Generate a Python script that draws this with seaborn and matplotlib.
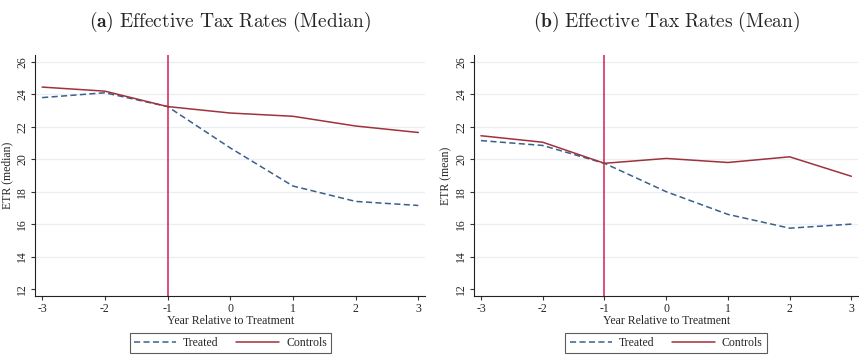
import numpy as np
import pandas as pd
import matplotlib
matplotlib.use("Agg")
import matplotlib.pyplot as plt
from matplotlib.lines import Line2D
import seaborn as sns

# event time
years = [-3, -2, -1, 0, 1, 2, 3]

# panel (a) median ETR
median_treated = [23.8, 24.1, 23.25, 20.7, 18.35, 17.4, 17.15]
median_controls = [24.45, 24.2, 23.25, 22.85, 22.65, 22.05, 21.65]

# panel (b) mean ETR
mean_treated = [21.15, 20.85, 19.75, 18.0, 16.6, 15.75, 16.0]
mean_controls = [21.45, 21.05, 19.75, 20.05, 19.8, 20.15, 18.95]

y_ticks = [12, 14, 16, 18, 20, 22, 24, 26]

TREATED_COLOR = "#3b5f8c"
CONTROLS_COLOR = "#a0323c"
VLINE_COLOR = "#d21f55"

sns.set_style("white")
plt.rcParams["font.family"] = ["Liberation Serif", "DejaVu Serif"]
plt.rcParams["mathtext.fontset"] = "cm"


def make_frame(treated, controls):
    """Long format frame for seaborn."""
    df = pd.DataFrame({"year": years + years,
                       "etr": treated + controls,
                       "group": ["Treated"] * len(years) + ["Controls"] * len(years)})
    return df


def draw_panel(ax, treated, controls, ylabel, title):
    df = make_frame(treated, controls)
    sns.lineplot(data=df, x="year", y="etr", hue="group", style="group",
                 palette={"Treated": TREATED_COLOR, "Controls": CONTROLS_COLOR},
                 dashes={"Treated": (4, 2.2), "Controls": ""},
                 linewidth=1.1, ax=ax, legend=False)
    ax.axvline(-1, color=VLINE_COLOR, linewidth=1.1, zorder=1)
    ax.set_xlim(-3.11, 3.11)
    ax.set_ylim(11.57, 26.43)
    ax.set_xticks(years)
    ax.set_xticklabels([str(y) for y in years], fontsize=8.5)
    ax.set_yticks(y_ticks)
    ax.set_yticklabels([str(t) for t in y_ticks], fontsize=8.5, rotation=90, va="center")
    for t in y_ticks[1:]:
        ax.axhline(t, color="#e9eff3", linewidth=0.9, zorder=0)
    ax.tick_params(axis="both", which="both", length=3, width=0.8, color="#333333",
                   left=True, bottom=True, pad=2)
    for side in ["top", "right"]:
        ax.spines[side].set_visible(False)
    for side in ["left", "bottom"]:
        ax.spines[side].set_color("#222222")
        ax.spines[side].set_linewidth(0.8)
    ax.set_xlabel("Year Relative to Treatment", fontsize=8.5, labelpad=0)
    ax.set_ylabel(ylabel, fontsize=8.5, labelpad=2)
    ax.set_title(title, fontsize=14, pad=20)

    # legend below
    handles = [Line2D([], [], color=TREATED_COLOR, linestyle=(0, (4, 2.2)), linewidth=1.1),
               Line2D([], [], color=CONTROLS_COLOR, linewidth=1.1)]
    leg = ax.legend(handles, ["Treated", "Controls"], ncol=2, fontsize=8.5,
                    loc="upper center", bbox_to_anchor=(0.5, -0.128),
                    frameon=True, fancybox=False, handlelength=3.6,
                    columnspacing=1.5, borderpad=0.35, handletextpad=0.6)
    leg.get_frame().set_edgecolor("#333333")
    leg.get_frame().set_linewidth(0.8)


fig = plt.figure(figsize=(8.59, 3.57), dpi=100)
ax1 = fig.add_axes([0.041, 0.171, 0.454, 0.675])
ax2 = fig.add_axes([0.552, 0.171, 0.447, 0.675])

draw_panel(ax1, median_treated, median_controls, "ETR (median)",
           r"$\mathbf{(a)}\ \mathrm{Effective\ Tax\ Rates\ (Median)}$")
draw_panel(ax2, mean_treated, mean_controls, "ETR (mean)",
           r"$\mathbf{(b)}\ \mathrm{Effective\ Tax\ Rates\ (Mean)}$")

fig.savefig("out.png", dpi=100, facecolor="white")
